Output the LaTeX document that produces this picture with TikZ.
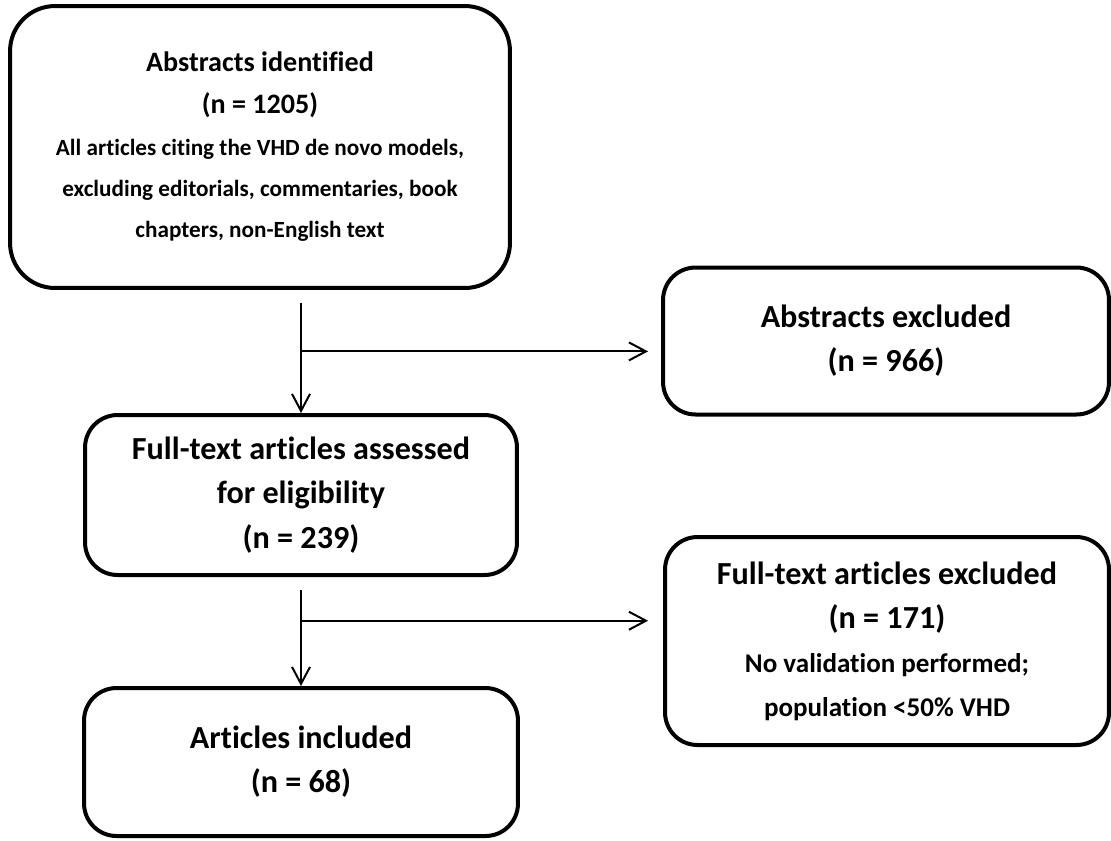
\documentclass[tikz,border=0pt]{standalone}
\usepackage{fontspec}
\setmainfont{Carlito}[Ligatures=NoCommon]
\usetikzlibrary{arrows.meta,calc}

\tikzset{
  caja/.style={draw, line width=0.8mm, rounded corners=0.65cm, align=center,
    inner sep=0pt, font=\bfseries\fontsize{18.3}{25}\selectfont},
  flecha/.style={line width=0.4mm, -{Straight Barb[length=3.4mm,width=3.6mm]}},
}
\newcommand{\detalle}{\fontsize{13.2}{21}\selectfont}
\newcommand{\detallegrande}{\fontsize{15.4}{22.7}\selectfont}

\begin{document}
\begin{tikzpicture}[x=0.02cm, y=-0.02cm]
    % Marco de la figura
    \useasboundingbox (0,0) rectangle (1111,840);

    % Cajas del diagrama
    \node[caja, rounded corners=0.9cm, minimum width=10cm, minimum height=5.64cm,
          font=\bfseries\fontsize{16}{23.5}\selectfont]
        (identificados) at (260,147)
        {Abstracts identified\\(n = 1205)\\[0.5pt]\detalle All articles citing the VHD de novo models,\\
         \detalle excluding editorials, commentaries, book\\\detalle chapters, non-English text};
    \node[caja, minimum width=8.92cm, minimum height=2.94cm]
        (excluidos) at (886,341) {Abstracts excluded\\(n = 966)};
    \node[caja, minimum width=8.64cm, minimum height=3.2cm,
          font=\bfseries\fontsize{18.3}{25.5}\selectfont]
        (revision) at (301,495) {Full-text articles assessed\\for eligibility\\(n = 239)};
    \node[caja, minimum width=8.88cm, minimum height=4.16cm]
        (descartados) at (887,641)
        {Full-text articles excluded\\(n = 171)\\\detallegrande No validation performed;\\
         \detallegrande population <50\% VHD};
    \node[caja, minimum width=8.68cm, minimum height=2.96cm]
        (incluidos) at (301,762) {Articles included\\(n = 68)};

    % Primera bifurcacion
    \coordinate (a1) at ($(identificados.south -| revision.north)+(0,13)$);
    \coordinate (j1) at ($(a1)!0.44!(revision.north)$);
    \draw[flecha] (a1) -- (revision.north);
    \draw[flecha, shorten >=0.26cm] (j1) -- (j1 -| excluidos.west);

    % Segunda bifurcacion
    \coordinate (a2) at ($(revision.south)+(0,13)$);
    \coordinate (j2) at ($(a2)!0.32!(incluidos.north)$);
    \draw[flecha] (a2) -- (incluidos.north);
    \draw[flecha, shorten >=0.3cm] (j2) -- (j2 -| descartados.west);
\end{tikzpicture}
\end{document}
